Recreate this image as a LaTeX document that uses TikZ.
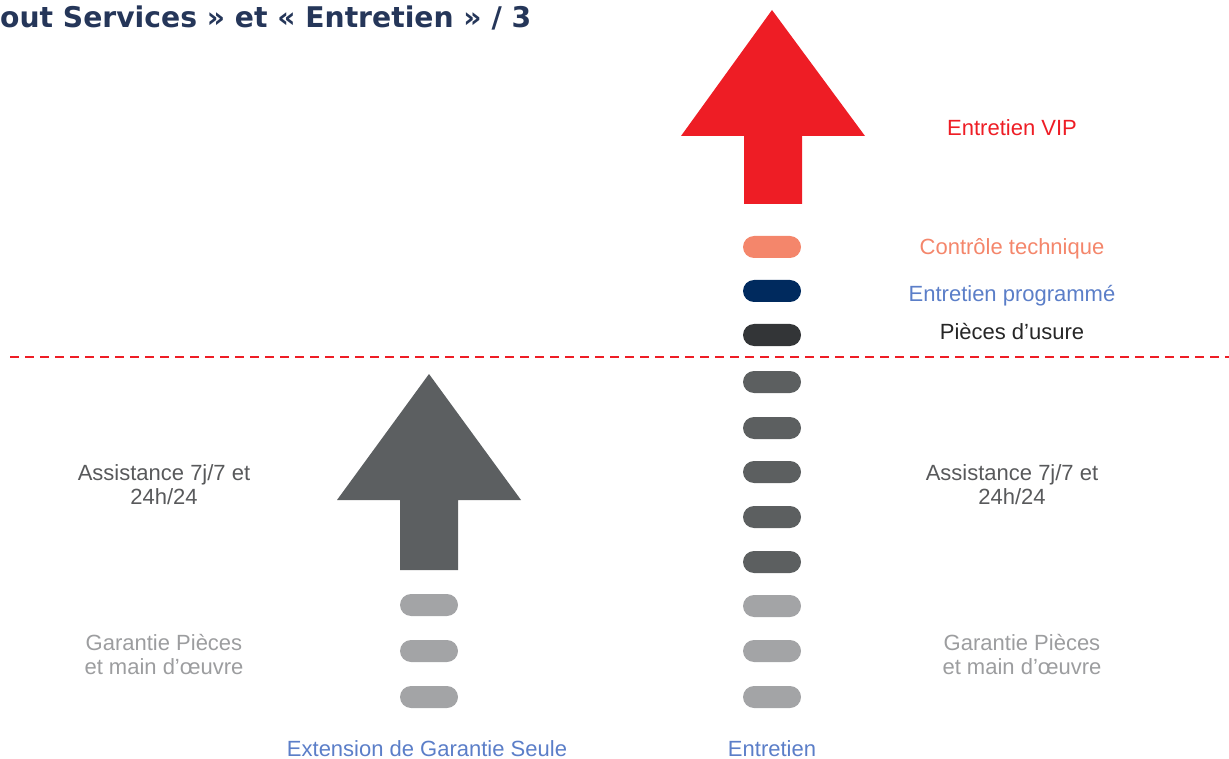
\documentclass[tikz,border=0pt]{standalone}
\usepackage{fontspec}
\setmainfont{Liberation Sans}
\newfontfamily\titlefont{DejaVu Sans}
\definecolor{arrred}{HTML}{EE1D25}
\definecolor{arrgray}{HTML}{5C5F61}
\definecolor{pillsalmon}{HTML}{F4866B}
\definecolor{pillnavy}{HTML}{002A5E}
\definecolor{pilldark}{HTML}{333537}
\definecolor{pillmid}{HTML}{5C5F60}
\definecolor{pilllight}{HTML}{A3A4A6}
\definecolor{txtblue}{HTML}{5B7EC8}
\definecolor{txtdark}{HTML}{58595B}
\definecolor{txtlight}{HTML}{9C9D9F}
\definecolor{titleblue}{HTML}{253659}
\begin{document}
\begin{tikzpicture}[x=1pt,y=-1pt,
  pill/.style={rectangle,rounded corners=11pt,minimum width=58pt,minimum height=22pt,inner sep=0pt},
  lbl/.style={font=\fontsize{22}{24}\selectfont,align=center,inner sep=0pt},
]
\useasboundingbox (0,0) rectangle (1229,759);
% title
\node[anchor=base west,inner sep=0pt,text=titleblue,font=\titlefont\bfseries\fontsize{28.5}{32}\selectfont,xscale=0.99] (title) at (0,28) {out Services » et « Entretien » / 3};
% red arrow
\fill[arrred] (772,10) -- (865,136) -- (802,136) -- (802,204) -- (744,204) -- (744,136) -- (681,136) -- cycle;
\coordinate (redtip) at (772,10);
% gray arrow
\fill[arrgray] (429,374) -- (521,500) -- (458,500) -- (458,570) -- (400,570) -- (400,500) -- (337,500) -- cycle;
\coordinate (graytip) at (429,374);
% dashed line
\coordinate (dl) at (10,357);
\coordinate (dr) at (1229,357);
\draw[arrred,line width=1.3pt,dash pattern=on 9pt off 6pt] (dl) -- (dr);
% right pills
\node[pill,fill=pillsalmon] (r1) at (772,247) {};
\node[pill,fill=pillnavy] (r2) at (772,291) {};
\node[pill,fill=pilldark] (r3) at (772,335) {};
\node[pill,fill=pillmid] (r4) at (772,382) {};
\node[pill,fill=pillmid] (r5) at (772,428) {};
\node[pill,fill=pillmid] (r6) at (772,472) {};
\node[pill,fill=pillmid] (r7) at (772,517) {};
\node[pill,fill=pillmid] (r8) at (772,562) {};
\node[pill,fill=pilllight] (r9) at (772,606) {};
\node[pill,fill=pilllight] (r10) at (772,651) {};
\node[pill,fill=pilllight] (r11) at (772,697) {};
% left pills
\node[pill,fill=pilllight] (l1) at (429,605) {};
\node[pill,fill=pilllight] (l2) at (429,651) {};
\node[pill,fill=pilllight] (l3) at (429,697) {};
% labels
\node[lbl,text=arrred] (vip) at (1012,128) {Entretien VIP};
\node[lbl,text=pillsalmon] (ct) at (1012,249) {Contrôle technique};
\node[lbl,text=txtblue] (ep) at (1012,296) {Entretien programmé};
\node[lbl,text=black!85] (pu) at (1012,332) {Pièces d’usure};
\node[lbl,text=txtdark] (asr) at (1012,485) {Assistance 7j/7 et\\24h/24};
\node[lbl,text=txtdark] (asl) at (164,485) {Assistance 7j/7 et\\24h/24};
\node[lbl,text=txtlight] (gpr) at (1022,655) {Garantie Pièces\\et main d’œuvre};
\node[lbl,text=txtlight] (gpl) at (164,655) {Garantie Pièces\\et main d’œuvre};
\node[lbl,text=txtblue] (egs) at (427,749) {Extension de Garantie Seule};
\node[lbl,text=txtblue] (ent) at (772,749) {Entretien};
\end{tikzpicture}
\end{document}
